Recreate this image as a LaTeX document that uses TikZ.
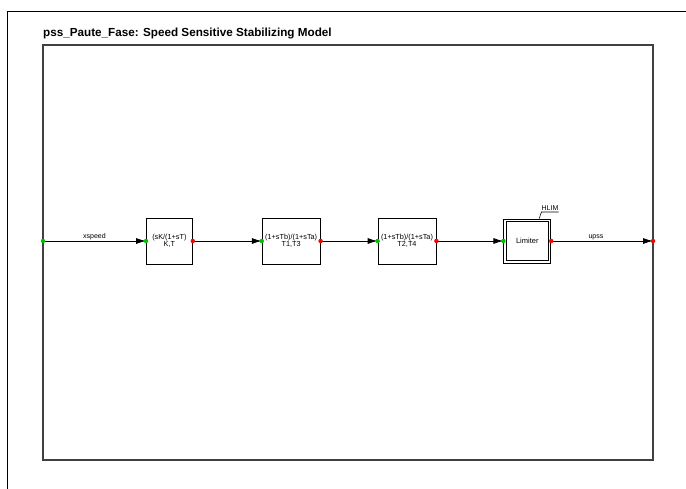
\documentclass[tikz,border=0pt]{standalone}
\usepackage{fontspec}
\setmainfont{Liberation Sans}
\usetikzlibrary{positioning, arrows.meta, calc}

\begin{document}
\begin{tikzpicture}[x=1pt, y=-1pt,
    block/.style={draw=black, line width=0.8pt, rectangle, minimum width=58pt, minimum height=46pt, inner sep=0pt, align=center, font=\fontsize{7.3}{6.2}\selectfont},
    limblock/.style={draw=black, line width=0.8pt, rectangle, minimum width=47pt, minimum height=44pt, inner sep=0pt, font=\fontsize{7.5}{8}\selectfont},
    inport/.style={circle, fill=green!75!black, inner sep=0pt, minimum size=4.5pt},
    outport/.style={circle, fill=red, inner sep=0pt, minimum size=4.5pt},
    signal/.style={line width=0.8pt, -{Latex[length=10pt, width=6pt]}},
    siglabel/.style={font=\fontsize{7}{8}\selectfont, inner sep=1pt}
]
\useasboundingbox (0,0) rectangle (686,488);

% Rahmen
\draw[line width=1pt] (7,492) -- (7,11) -- (690,11);
\draw[line width=1.3pt, black!75] (43,45) rectangle (653,460);
\node[anchor=base west, inner sep=0pt, font=\bfseries\fontsize{11.7}{13}\selectfont] (title) at (43,36) {pss\_Paute\_Fase: Speed Sensitive Stabilizing Model};

% Knoten
\coordinate (xin) at (43,241);
\coordinate (xout) at (653,241);
\node[block, minimum width=46pt, anchor=west] (b1) at (146,241) {(sK/(1+sT)\\K,T};
\node[block, right=69pt of b1] (b2) {(1+sTb)/(1+sTa)\\T1,T3};
\node[block, right=57pt of b2] (b3) {(1+sTb)/(1+sTa)\\T2,T4};
\node[limblock, right=67pt of b3] (lim) {Limiter};
\draw[line width=0.8pt] ($(lim.south west)+(3,-3)$) rectangle ($(lim.north east)+(-3,3)$);
\node[siglabel, inner xsep=0pt, anchor=south] (hlim) at (550,212) {HLIM};

% Kanten
\draw[signal] (xin) -- (b1.west) node[midway, siglabel, above] {xspeed};
\draw[signal] (b1.east) -- (b2.west);
\draw[signal] (b2.east) -- (b3.west);
\draw[signal] (b3.east) -- (lim.west);
\draw[signal] (lim.east) -- (xout) node[pos=0.44, siglabel, above] {upss};
\draw[line width=0.6pt] ($(lim.north east)+(-12,0)$) -- (hlim.south west) -- (hlim.south east);

% Ports
\node[inport] at (xin) {};
\node[outport] at (xout) {};
\foreach \b in {b1,b2,b3,lim} {
    \node[inport] at (\b.west) {};
    \node[outport] at (\b.east) {};
}
\end{tikzpicture}
\end{document}
